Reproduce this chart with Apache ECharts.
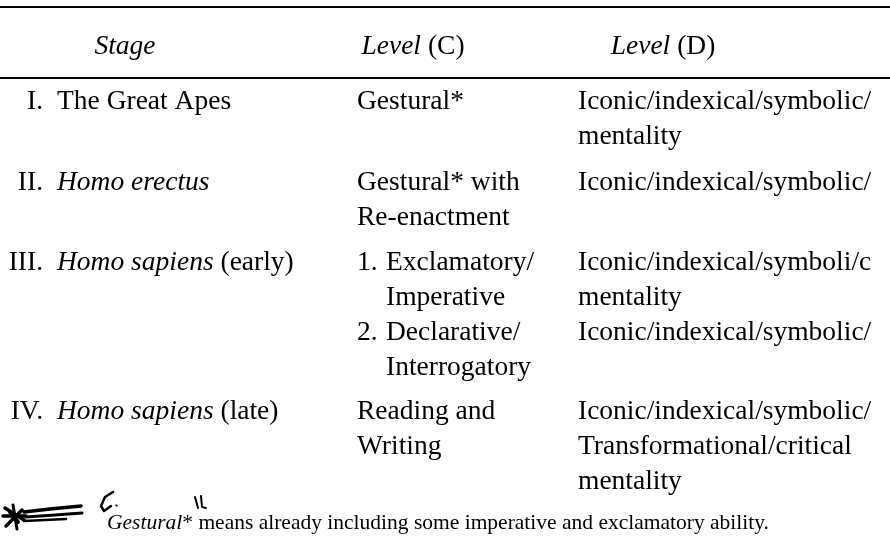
<!DOCTYPE html>
<html><head><meta charset="utf-8">
<script src="https://cdn.jsdelivr.net/npm/echarts@6/dist/echarts.min.js"></script>
<style>html,body{margin:0;padding:0;background:#fff}#c{width:890px;height:542px}</style>
</head><body><div id="c"></div>
<script>
// ---- data ----
var headers = ["{i|Stage}", "{i|Level} (C)", "{i|Level} (D)"];
var stageNums = ["I.", "II.", "III.", "IV."];
var stageNames = ["The Great Apes", "{i|Homo erectus}", "{i|Homo sapiens} (early)", "{i|Homo sapiens} (late)"];
var levelC = [
  [["", "Gestural*"]],
  [["", "Gestural* with"], ["", "Re-enactment"]],
  [["1.", "Exclamatory/"], ["", "Imperative"], ["2.", "Declarative/"], ["", "Interrogatory"]],
  [["", "Reading and"], ["", "Writing"]]
];
var levelD = [
  ["Iconic/indexical/symbolic/", "mentality"],
  ["Iconic/indexical/symbolic/"],
  ["Iconic/indexical/symboli/c", "mentality", "Iconic/indexical/symbolic/"],
  ["Iconic/indexical/symbolic/", "Transformational/critical", "mentality"]
];
var footnote = "{i|Gestural}* means already including some imperative and exclamatory ability.";

// ---- layout ----
var FONT = "'Liberation Serif', 'Times New Roman', serif";
var FS = 27.5;
var LH = 35;
var rowY = [102, 183, 263, 412];
var colHeadX = [125, 413, 663];
var numRight = 43, nameX = 57, cX = 357, cIndentX = 386, dX = 578;

function rich(size) {
  return { i: { fontStyle: 'italic', fontFamily: FONT, fontSize: size, fill: '#000' } };
}
function txt(x, y, s, align, size) {
  size = size || FS;
  return {
    type: 'text', x: x, y: y, silent: true,
    style: {
      text: s, fontFamily: FONT, fontSize: size, fill: '#000',
      textAlign: align || 'left', textVerticalAlign: 'middle', rich: rich(size)
    }
  };
}
function line(x1, y1, x2, y2, w) {
  return { type: 'line', silent: true, shape: { x1: x1, y1: y1, x2: x2, y2: y2 }, style: { stroke: '#000', lineWidth: w || 1.5 } };
}

var els = [];
els.push(line(0, 7, 890, 7, 2));
els.push(line(0, 78, 890, 78, 2));
headers.forEach(function (h, i) { els.push(txt(colHeadX[i], 47, h, 'center')); });

stageNums.forEach(function (n, r) {
  var y0 = rowY[r];
  els.push(txt(numRight, y0, n, 'right'));
  els.push(txt(nameX, y0, stageNames[r], 'left'));
  levelC[r].forEach(function (ln, k) {
    var y = y0 + k * LH;
    var indented = (ln[0] !== "") || (r === 2);
    if (ln[0] !== "") els.push(txt(cX, y, ln[0], 'left'));
    els.push(txt(indented ? cIndentX : cX, y, ln[1], 'left'));
  });
  levelD[r].forEach(function (s, k) {
    els.push(txt(dX, y0 + k * LH, s, 'left'));
  });
});

els.push(txt(107, 523, footnote, 'left', 21.5));

// hand-drawn marks
var ink = { stroke: '#000', lineCap: 'round', lineJoin: 'round' };
function poly(pts, w) { return { type: 'polyline', silent: true, shape: { points: pts }, style: Object.assign({ lineWidth: w, fill: null }, ink) }; }
els.push(poly([[24, 512], [50, 509], [81, 506]], 3.5));
els.push(poly([[26, 517], [55, 515], [82, 513]], 3));
els.push(poly([[24, 521], [45, 520], [66, 519]], 2.5));
els.push(poly([[5, 508], [24, 520]], 3.5));
els.push(poly([[6, 526], [22, 510]], 3.5));
els.push(poly([[3, 516], [26, 516]], 3.5));
els.push(poly([[13, 505], [17, 529]], 3));
els.push(poly([[10, 512], [18, 522]], 4));
els.push(poly([[113, 492], [105, 497], [101, 506], [104, 511], [111, 506]], 2.5));
els.push(poly([[116, 505], [117, 506]], 1.5));
els.push(poly([[195, 497], [198, 508]], 2));
els.push(poly([[201, 496], [202, 507], [206, 508]], 2));

var chart = echarts.init(document.getElementById('c'), null, { renderer: 'canvas' });
chart.setOption({ backgroundColor: '#fff', animation: false, graphic: { elements: els } });
</script></body></html>
